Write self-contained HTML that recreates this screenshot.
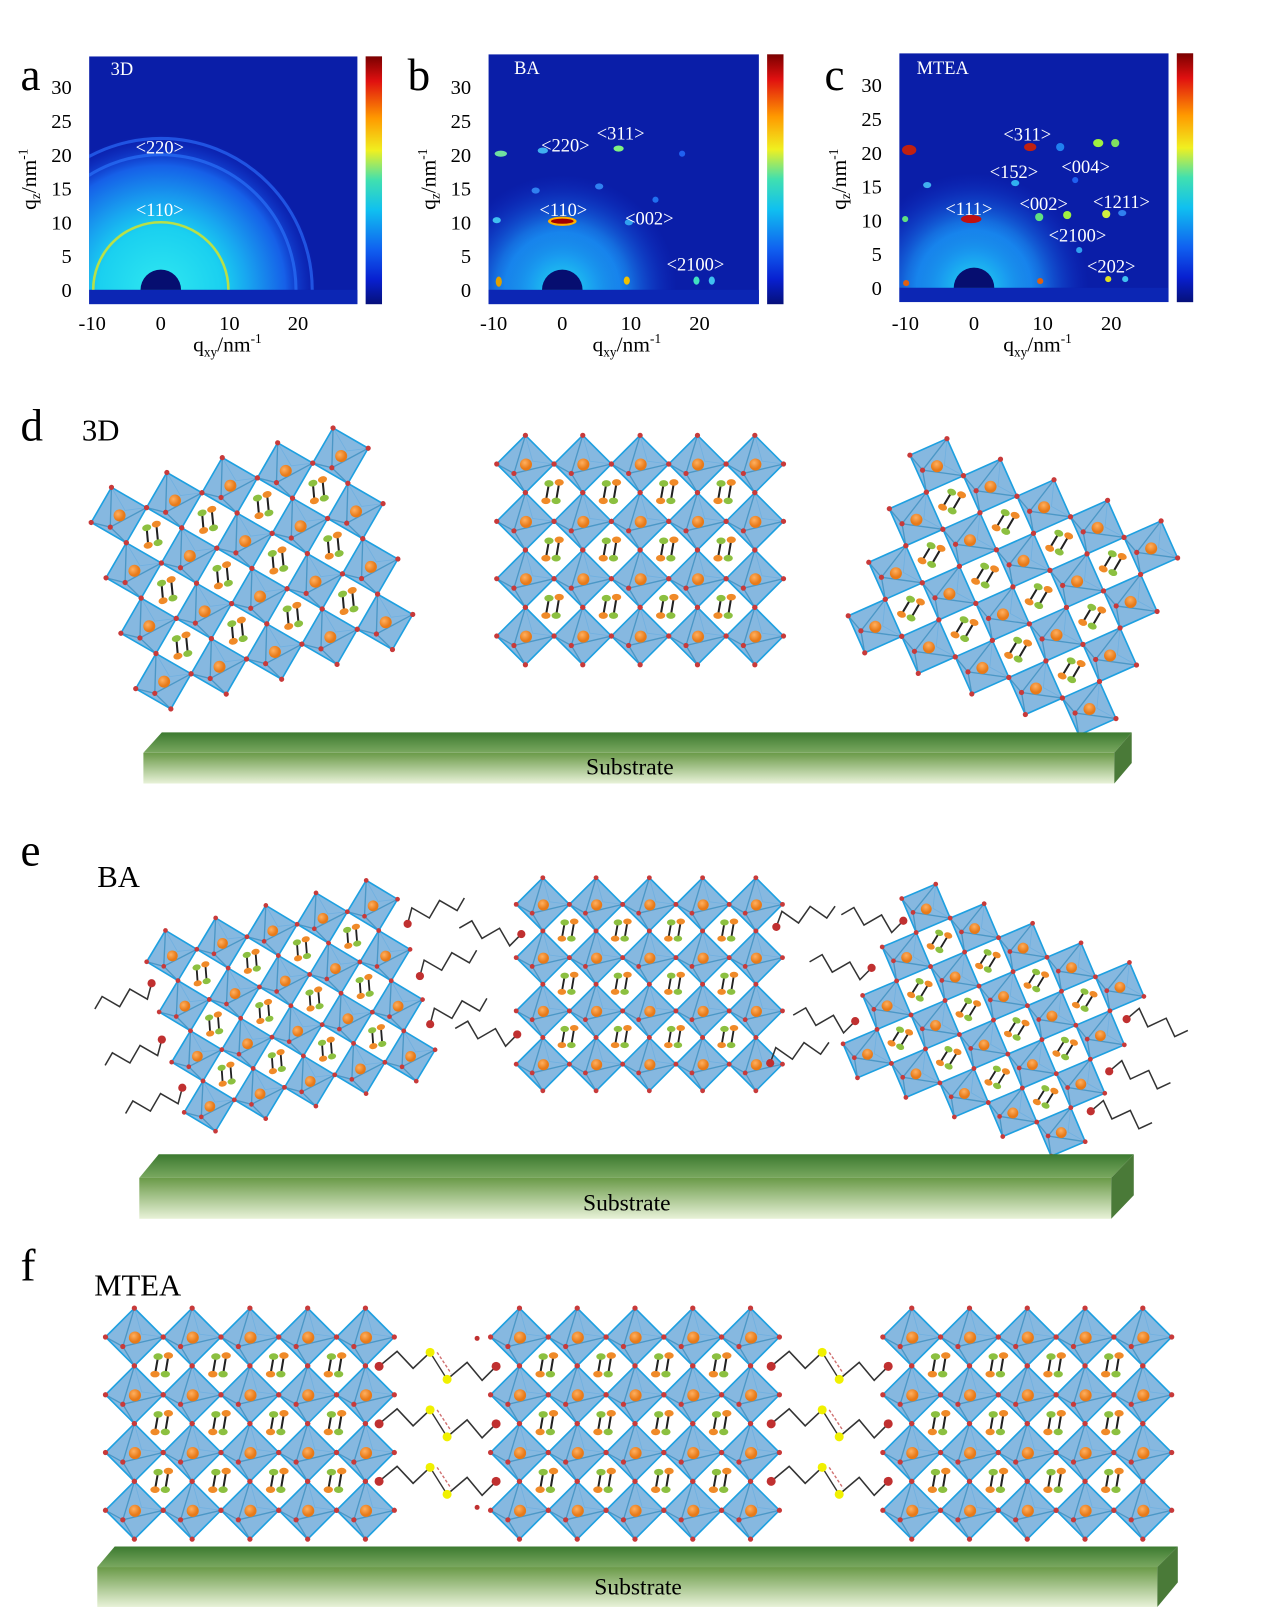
<!DOCTYPE html>
<html><head><meta charset="utf-8"><style>
html,body{margin:0;padding:0;background:#fff}
svg{display:block}
text{font-family:"Liberation Serif",serif}
</style></head><body>
<svg id="s" width="1270" height="1607" viewBox="0 0 1240 1569" xmlns="http://www.w3.org/2000/svg">
<defs>
<linearGradient id="cb" x1="0" y1="0" x2="0" y2="1">
<stop offset="0" stop-color="#7a0000"/><stop offset="0.1" stop-color="#e01010"/><stop offset="0.25" stop-color="#ff9a00"/><stop offset="0.38" stop-color="#f0f020"/><stop offset="0.5" stop-color="#40e0b0"/><stop offset="0.62" stop-color="#10c0f0"/><stop offset="0.78" stop-color="#1060f0"/><stop offset="0.9" stop-color="#0820d0"/><stop offset="1" stop-color="#06107a"/>
</linearGradient>
<radialGradient id="glowA"><stop offset="0" stop-color="#30e8f0"/><stop offset="0.4" stop-color="#1ad0f0"/><stop offset="0.55" stop-color="#18a8f0"/><stop offset="0.8" stop-color="#1660e8"/><stop offset="1" stop-color="#1030d0" stop-opacity="0"/></radialGradient>
<radialGradient id="glowB"><stop offset="0" stop-color="#20d8f0"/><stop offset="0.5" stop-color="#1890f0"/><stop offset="1" stop-color="#1030d0" stop-opacity="0"/></radialGradient>
<radialGradient id="orb" cx="0.4" cy="0.35"><stop offset="0" stop-color="#ffb060"/><stop offset="1" stop-color="#e87a18"/></radialGradient>
<linearGradient id="sf" x1="0" y1="0" x2="0" y2="1"><stop offset="0" stop-color="#6a9a48"/><stop offset="1" stop-color="#e8f2d8"/></linearGradient>
<linearGradient id="st" x1="0" y1="0" x2="0" y2="1"><stop offset="0" stop-color="#3c7a30"/><stop offset="1" stop-color="#7aa860"/></linearGradient>
<clipPath id="ca"><rect x="87" y="55" width="262" height="242"/></clipPath>
<clipPath id="cbb"><rect x="477" y="53" width="264" height="244"/></clipPath>
<clipPath id="cc"><rect x="878" y="52" width="263" height="243"/></clipPath>
</defs>

<g font-size="44" fill="#000">
<text x="20" y="88">a</text><text x="398" y="88">b</text><text x="805" y="88">c</text>
<text x="20" y="430">d</text><text x="20" y="845">e</text><text x="20" y="1250">f</text>
</g>
<g font-size="30"><text x="80" y="430">3D</text><text x="95" y="866">BA</text><text x="92" y="1265">MTEA</text></g>

<g id="plots"></g>
<g id="art"></g>

<g>
<polygon points="158,715 1105,715 1088,735 140,735" fill="url(#st)"/>
<rect x="140" y="735" width="948" height="30" fill="url(#sf)"/>
<polygon points="1088,735 1105,715 1105,745 1088,765" fill="#4a7a38"/>
<text x="615" y="756" font-size="23" text-anchor="middle">Substrate</text>
<polygon points="155,1127 1107,1127 1085,1150 136,1150" fill="url(#st)"/>
<rect x="136" y="1150" width="949" height="40" fill="url(#sf)"/>
<polygon points="1085,1150 1107,1127 1107,1167 1085,1190" fill="#4a7a38"/>
<text x="612" y="1182" font-size="23" text-anchor="middle">Substrate</text>
<polygon points="112,1510 1150,1510 1130,1530 95,1530" fill="url(#st)"/>
<rect x="95" y="1530" width="1035" height="39" fill="url(#sf)"/>
<polygon points="1130,1530 1150,1510 1150,1545 1130,1569" fill="#4a7a38"/>
<text x="623" y="1557" font-size="23" text-anchor="middle">Substrate</text>
</g>
</svg>
<script>
var P=[];
function plot(x0,y0,w,h,ox,oy,cbx,clip,kind,labels,spots){
 var u=6.6,s='';
 s+='<g clip-path="url(#'+clip+')">';
 s+='<rect x="'+x0+'" y="'+y0+'" width="'+w+'" height="'+h+'" fill="#0a1ea8"/>';
 s+='<g clip-path="url(#'+clip+'h)">';
 if(kind=='a'){
  s+='<circle cx="'+ox+'" cy="'+oy+'" r="'+(23*u)+'" fill="url(#glowA)"/>';
  s+='<circle cx="'+ox+'" cy="'+oy+'" r="'+(20*u)+'" fill="none" stroke="#2a70f8" stroke-width="3" opacity="0.7"/>';
  s+='<circle cx="'+ox+'" cy="'+oy+'" r="'+(22.4*u)+'" fill="none" stroke="#2a6af8" stroke-width="3" opacity="0.7"/>';
  s+='<circle cx="'+ox+'" cy="'+oy+'" r="'+(10*u)+'" fill="none" stroke="#b8e048" stroke-width="2.5"/>';
 } else {
  s+='<circle cx="'+ox+'" cy="'+oy+'" r="'+(17*u)+'" fill="url(#glowB)"/>';
  s+='<circle cx="'+ox+'" cy="'+oy+'" r="'+(10*u)+'" fill="url(#glowB)" opacity="0.6"/>';
 }
 s+='</g>';
 s+='<rect x="'+x0+'" y="'+oy+'" width="'+w+'" height="'+(y0+h-oy)+'" fill="#0c26b4"/>';
 s+='<path d="M'+(ox-3*u)+','+oy+' A'+(3*u)+','+(3*u)+' 0 0 1 '+(ox+3*u)+','+oy+' Z" fill="#060e70"/>';
 for(var i=0;i<spots.length;i++){var p=spots[i];
  s+='<ellipse cx="'+p[0]+'" cy="'+p[1]+'" rx="'+(p[3]||4)+'" ry="'+(p[4]||3)+'" fill="'+p[2]+'"/>';}
 s+='</g>';
 s+='<rect x="'+cbx+'" y="'+y0+'" width="16" height="'+h+'" fill="url(#cb)"/>';
 var t=['30','25','20','15','10','5','0'];
 for(var i=0;i<7;i++){var v=30-5*i;
  s+='<text x="'+(x0-17)+'" y="'+(oy-v*u+7)+'" font-size="20" text-anchor="end">'+t[i]+'</text>';}
 var xs=[-10,0,10,20];
 for(var i=0;i<4;i++){s+='<text x="'+(ox+xs[i]*6.7)+'" y="322" font-size="20" text-anchor="middle">'+xs[i]+'</text>';}
 s+='<text transform="translate('+(x0-52)+',175) rotate(-90)" font-size="21" text-anchor="middle">q<tspan font-size="13" dy="4">z</tspan><tspan dy="-4">/nm</tspan><tspan font-size="13" dy="-8">-1</tspan></text>';
 s+='<text x="'+(x0+135)+'" y="343" font-size="21" text-anchor="middle">q<tspan font-size="13" dy="5">xy</tspan><tspan dy="-5">/nm</tspan><tspan font-size="13" dy="-8">-1</tspan></text>';
 for(var i=0;i<labels.length;i++){var l=labels[i];
  s+='<text x="'+l[1]+'" y="'+(l[2]+6)+'" font-size="'+(l[3]||18)+'" fill="#fff" text-anchor="'+(l[3]?'start':'middle')+'">'+l[0]+'</text>';}
 P.push(s);
}
var defs=document.querySelector('defs');
defs.innerHTML+='<clipPath id="cah"><rect x="0" y="0" width="1240" height="283"/></clipPath><clipPath id="cbbh"><rect x="0" y="0" width="1240" height="283"/></clipPath><clipPath id="cch"><rect x="0" y="0" width="1240" height="281"/></clipPath>';
plot(87,55,262,242,157,283,357,'ca','a',[['3D',108,67,18],['&lt;220&gt;',156,144],['&lt;110&gt;',156,205]],[]);
plot(477,53,264,244,549,283,749,'cbb','b',[['BA',502,66,18],['&lt;220&gt;',552,142],['&lt;311&gt;',606,130],['&lt;110&gt;',550,205],['&lt;002&gt;',634,213],['&lt;2100&gt;',679,258]],
[[549,216,'#c01010',13,3],[549,216,'#ffb000',14,4.5],[549,216,'#a00000',11,2.5],[489,150,'#70e0a0',6,3],[604,145,'#80f080',5,3],[530,147,'#40b0f0',5,3],[485,215,'#40c0f0',4,3],[614,217,'#30a0f0',4,3],[487,275,'#e0a000',3,5],[612,274,'#f0c000',3,4],[680,274,'#40e0c0',3,4],[695,274,'#40c0f0',3,4],[523,186,'#3080f0',4,3],[585,182,'#3080f0',4,3],[666,150,'#2060f0',3,3],[640,195,'#2070f0',3,3]]);
var cs=[[909,150,'#c02010',7,5],[1030,147,'#c02010',6,4],[1098,143,'#a0f040',5,4],[1115,143,'#80e060',4,4],[1060,147,'#2080f0',4,4],[927,185,'#40b0f0',4,3],[1015,183,'#30b0f0',4,3],[905,219,'#60e080',3,3],[971,219,'#c01010',10,4],[1039,217,'#60e080',4,4],[1067,215,'#a0f040',4,4],[1106,214,'#d0f040',4,4],[1122,213,'#3080f0',4,3],[1079,250,'#30a0f0',3,3],[1108,279,'#e0e020',3,3],[1125,279,'#40c0f0',3,3],[1040,281,'#e06010',3,3],[906,283,'#e06010',3,3],[1075,180,'#2060f0',3,3]];
var cs2=cs.map(function(p){return [p[0]/1.024,p[1]/1.024,p[2],p[3],p[4]];});
plot(878,52,263,243,951,281,1149,'cc','c',[['MTEA',895,66,18],['&lt;311&gt;',1003,131],['&lt;152&gt;',990,168],['&lt;004&gt;',1060,163],['&lt;111&gt;',946,204],['&lt;002&gt;',1019,199],['&lt;1211&gt;',1095,197],['&lt;2100&gt;',1052,230],['&lt;202&gt;',1085,260]],cs2);
document.getElementById('plots').innerHTML=P.join('');

function oct(x,y,h){
 var s='',ix=x-0.4*h,iy=y+0.33*h;
 s+='<polygon points="'+x+','+(y-h)+' '+(x+h)+','+y+' '+x+','+(y+h)+' '+(x-h)+','+y+'" fill="#86b8e0" stroke="#1ea0e0" stroke-width="1.6"/>';
 s+='<path d="M'+x+','+(y-h)+'L'+ix+','+iy+'L'+(x+h)+','+y+'M'+(x-h)+','+y+'L'+ix+','+iy+'L'+x+','+(y+h)+'" stroke="#3c8fbf" stroke-width="1.3" fill="none" opacity="0.8"/>';
 s+='<path d="M'+x+','+(y-h)+'L'+(x+0.25*h)+','+(y-0.1*h)+'L'+(x+h)+','+y+'" stroke="#70b0e0" stroke-width="0.8" fill="none"/>';
 s+='<circle cx="'+(x+0.02*h)+'" cy="'+(y+0.02*h)+'" r="'+(0.21*h)+'" fill="url(#orb)"/>';
 var c=[[x,y-h],[x+h,y],[x,y+h],[x-h,y],[ix,iy]];
 for(var i=0;i<5;i++)s+='<circle cx="'+c[i][0]+'" cy="'+c[i][1]+'" r="'+(h/11)+'" fill="#c83a3a"/>';
 return s;
}
function pair(x,y,h){
 var k=h/28,s='';
 function e(a,b,c){return '<ellipse cx="'+(x+a*k)+'" cy="'+(y+b*k)+'" rx="'+(4.5*k)+'" ry="'+(3.2*k)+'" fill="'+c+'"/>';}
 s+='<path d="M'+(x-5*k)+','+(y-9*k)+'L'+(x-8*k)+','+(y+8*k)+'M'+(x+5*k)+','+(y-10*k)+'L'+(x+2*k)+','+(y+8*k)+'" stroke="#222" stroke-width="'+(2*k)+'"/>';
 s+=e(-5,-9,'#8cc040')+e(-8,8,'#f08a28')+e(5,-10,'#f08a28')+e(2,8,'#8cc040');
 return s;
}
function grid(cx,cy,cols,rows,sp,rot){
 var h=sp/2,s='<g transform="rotate('+rot+' '+cx+' '+cy+')">';
 for(var i=0;i<cols-1;i++)for(var j=0;j<rows-1;j++)
  s+=pair(cx+(i+0.5-(cols-1)/2)*sp,cy+(j+0.5-(rows-1)/2)*sp,h);
 for(var i=0;i<cols;i++)for(var j=0;j<rows;j++)
  s+=oct(cx+(i-(cols-1)/2)*sp,cy+(j-(rows-1)/2)*sp,h);
 return s+'</g>';
}
function chain(x,y,ang){
 var s='<g transform="rotate('+ang+' '+x+' '+y+')"><polyline points="'+x+','+y+' '+(x+8)+','+(y-14)+' '+(x+22)+','+(y)+' '+(x+36)+','+(y-14)+' '+(x+50)+','+y+' '+(x+60)+','+(y-10)+'" fill="none" stroke="#333" stroke-width="1.5"/></g>';
 return s+'<circle cx="'+x+'" cy="'+y+'" r="4" fill="#c03030"/>';
}
var A='';
A+=grid(246,555,5,4,56,-15);
A+=grid(625,537,5,4,56,0);
A+=grid(989,573,5,4,56,21);
A+=grid(284,982,5,4,50.5,-14);
A+=grid(634,961,5,4,52,0);
A+=grid(970,996,5,4,51,22);
A+=grid(244,1390,5,4,56.4,0);
A+=grid(620,1390,5,4,56.4,0);
A+=grid(1003,1390,5,4,56.4,0);
var ch=[[148,960,165],[158,1015,165],[178,1062,165],[398,902,-15],[410,953,-15],[420,1000,-15],[509,912,195],[505,1010,195],[758,905,-10],[752,1038,-10],[851,945,195],[882,899,195],[835,997,195],[1100,995,20],[1083,1046,20],[1065,1085,20]];
for(var i=0;i<ch.length;i++)A+=chain(ch[i][0],ch[i][1],ch[i][2]);
var B='<g transform="scale(0.9766)">';
for(var g=0;g<2;g++)for(var r=0;r<3;r++){
 var dx=g*392,dy=r*57.5;
 function P2(a,b){return (a+dx)+','+(b+dy);}
 B+='<polyline points="'+P2(379,1366)+' '+P2(397,1351)+' '+P2(413,1368)+' '+P2(430,1352)+'" fill="none" stroke="#333" stroke-width="1.6"/>';
 B+='<line x1="'+(430+dx)+'" y1="'+(1352+dy)+'" x2="'+(447+dx)+'" y2="'+(1379+dy)+'" stroke="#333" stroke-width="1.4"/>';
 B+='<line x1="'+(437+dx)+'" y1="'+(1352+dy)+'" x2="'+(451+dx)+'" y2="'+(1373+dy)+'" stroke="#d07070" stroke-width="1.4" stroke-dasharray="3,2"/>';
 B+='<polyline points="'+P2(447,1379)+' '+P2(467,1362)+' '+P2(482,1380)+' '+P2(496,1366)+'" fill="none" stroke="#333" stroke-width="1.6"/>';
 B+='<circle cx="'+(379+dx)+'" cy="'+(1366+dy)+'" r="4.5" fill="#c03030"/><circle cx="'+(496+dx)+'" cy="'+(1366+dy)+'" r="4.5" fill="#c03030"/>';
 B+='<circle cx="'+(430+dx)+'" cy="'+(1352+dy)+'" r="4.5" fill="#f0f000"/><circle cx="'+(447+dx)+'" cy="'+(1379+dy)+'" r="4.5" fill="#f0f000"/>';
}
B+='<circle cx="477" cy="1338" r="2.5" fill="#c03030"/><circle cx="477" cy="1507" r="2.5" fill="#c03030"/></g>';
document.getElementById('art').innerHTML=A+B;
</script>
</body></html>
